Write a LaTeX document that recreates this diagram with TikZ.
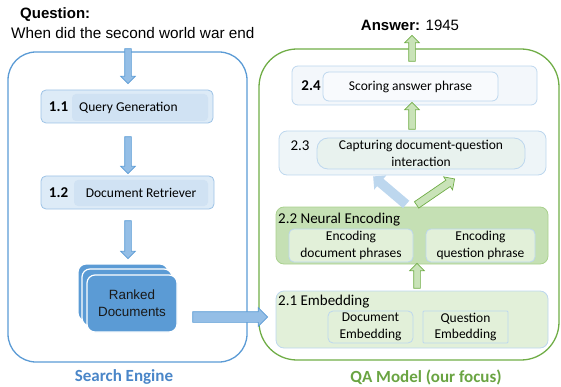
\documentclass[tikz,border=0pt]{standalone}
\usepackage{fontspec}
\setmainfont{Carlito}
\newfontfamily\arial{Liberation Sans}
\usetikzlibrary{shapes.arrows,calc}
\definecolor{seblue}{HTML}{5B9BD5}
\definecolor{selabel}{HTML}{4A86C8}
\definecolor{qagreen}{HTML}{70AD47}
\definecolor{qalabel}{HTML}{6AA442}
\definecolor{lbfill}{HTML}{DDEBF7}
\definecolor{lbborder}{HTML}{9DC3E6}
\definecolor{lbinner}{HTML}{D0E2F3}
\definecolor{pborder}{HTML}{BDD7EE}
\definecolor{fa}{HTML}{F3F7FB}
\definecolor{fb}{HTML}{EEF5F8}
\definecolor{fbin}{HTML}{E8F2EE}
\definecolor{gb}{HTML}{C5E0B4}
\definecolor{gbborder}{HTML}{A9D18E}
\definecolor{ga}{HTML}{E2F0D9}
\definecolor{arrowblue}{HTML}{94BEE6}
\definecolor{arrowbluelight}{HTML}{BDD7EE}
\definecolor{arrowgreen}{HTML}{C9E3B8}
\newcommand\blockarrow[3]{\path let \p1=(#2), \p2=(#3), \n1={veclen(\x2-\x1,\y2-\y1)}, \n2={atan2(\y2-\y1,\x2-\x1)} in node[#1, minimum height=\n1, rotate=\n2] at ($(\p1)!0.5!(\p2)$) {};}
\begin{document}
\begin{tikzpicture}[x=1pt,y=-1pt,
  nw/.style={anchor=north west, inner sep=0pt, outer sep=0pt},
  bigbox/.style={nw, draw, line width=1.3pt},
  sbox/.style={nw, rounded corners=5pt, draw=lbborder, fill=lbfill, line width=0.8pt},
  sinner/.style={nw, rounded corners=4pt, fill=lbinner, font=\fontsize{13.5}{16}\selectfont},
  pbox/.style={nw, draw=pborder, line width=0.8pt},
  lbl/.style={inner sep=0pt, font=\fontsize{15}{18}\selectfont},
  txt/.style={font=\fontsize{13.5}{16.5}\selectfont, align=center, inner sep=0pt},
  barrowbase/.style={single arrow, inner xsep=0pt, outer sep=0pt, line width=0.7pt},
  downarrow/.style={barrowbase, draw=seblue, fill=arrowblue, inner ysep=3pt, single arrow head extend=4pt},
  bigarrow/.style={barrowbase, draw=seblue, fill=arrowblue, inner ysep=5pt, single arrow head extend=4pt},
  greenarrow/.style={barrowbase, draw=qagreen, fill=arrowgreen, inner ysep=3pt, single arrow head extend=4pt},
  diagblue/.style={barrowbase, fill=arrowbluelight, inner ysep=4.5pt, single arrow head extend=4.5pt},
  diaggreen/.style={barrowbase, draw=qagreen, fill=arrowgreen, inner ysep=3.5pt, single arrow head extend=4pt},
  doc/.style={nw, rounded corners=8pt, fill=seblue, draw=white, line width=1.2pt, minimum width=90pt, minimum height=57pt}
]
\useasboundingbox (0,0) rectangle (561,387);

% ---------- Search engine ----------
\node[bigbox, draw=seblue, rounded corners=28pt, minimum width=239pt, minimum height=310pt] (se) at (8,52) {};
\node[anchor=west, inner sep=0pt, font=\arial\bfseries\fontsize{15}{18}\selectfont] (qtitle) at (20,15) {Question:};
\node[anchor=west, inner sep=0pt, font=\arial\fontsize{15.3}{18}\selectfont] (qtext) at (11,33) {When did the second world war end};

\node[sbox, minimum width=172pt, minimum height=33pt] (b11) at (41,90) {};
\node[sinner, minimum width=136pt, minimum height=27pt] (b11in) at (72,94) {};
\node[font=\fontsize{13.5}{16}\selectfont, inner sep=0pt, anchor=west] (b11txt) at (79,107.5) {Query Generation};
\node[lbl, font=\bfseries\fontsize{15}{18}\selectfont] (n11) at (58.5,106.5) {1.1};

\node[sbox, minimum width=173pt, minimum height=33pt] (b12) at (41,176) {};
\node[sinner, minimum width=134pt, minimum height=26pt] (b12in) at (74,180) {Document Retriever};
\node[lbl, font=\bfseries\fontsize{15}{18}\selectfont] (n12) at (58.5,192.5) {1.2};

\node[doc] (rd3) at (78,264) {};
\node[doc] (rd2) at (82,269) {};
\node[doc, font=\arial\fontsize{13.4}{16.7}\selectfont, text=black!90, align=center] (rd) at (87,275) {Ranked\\Documents};

\node[font=\bfseries\fontsize{17}{20}\selectfont, text=selabel, inner sep=0pt] (selbl) at (124,377) {Search Engine};

\blockarrow{downarrow}{$(b11.north)+(1,-43)$}{$(b11.north)+(1,-8)$}
\blockarrow{downarrow}{$(b11.south)+(1,12)$}{$(b12.north)+(0.5,-4)$}
\blockarrow{downarrow}{$(b12.south)+(0.5,10)$}{$(rd.north)+(-4,-18)$}

% ---------- QA model ----------
\node[bigbox, draw=qagreen, rounded corners=38pt, minimum width=300pt, minimum height=311pt] (qa) at (259,49) {};
\node[anchor=center, inner sep=0pt, font=\arial\fontsize{15}{18}\selectfont] (ans) at (410,25) {\textbf{Answer:} 1945};

\blockarrow{bigarrow}{$(rd.east)+(13,13.5)$}{$(qa.west)+(6,112.5)$}

% 2.4
\node[pbox, fill=fa, rounded corners=6pt, minimum width=245pt, minimum height=39pt] (b24) at (292,66) {};
\node[pbox, fill=fa!60!white, rounded corners=6pt, minimum width=175pt, minimum height=29pt, font=\fontsize{13.5}{16}\selectfont] (b24in) at (323,72) {Scoring answer phrase};
\node[lbl, font=\bfseries\fontsize{15}{18}\selectfont] (n24) at (311,86) {2.4};

% 2.3
\node[pbox, fill=fb, rounded corners=8pt, minimum width=267pt, minimum height=44pt] (b23) at (279,131) {};
\node[pbox, fill=fbin, rounded corners=11pt, minimum width=208pt, minimum height=31pt, txt] (b23in) at (317,138) {Capturing document-question\\interaction};
\node[lbl] (n23) at (300,146) {2.3};

% 2.2
\node[nw, draw=gbborder, fill=gb, line width=0.8pt, rounded corners=8pt, minimum width=272pt, minimum height=57pt] (b22) at (276,207) {};
\node[lbl, anchor=west] (t22) at (278,219.5) {2.2 Neural Encoding};
\node[pbox, fill=ga, rounded corners=5pt, minimum width=124pt, minimum height=33pt, txt] (b22l) at (289,229) {Encoding\\document phrases};
\node[pbox, fill=ga, rounded corners=5pt, minimum width=109pt, minimum height=33pt, txt] (b22r) at (426,229) {Encoding\\question phrase};

% 2.1
\node[pbox, fill=ga, rounded corners=8pt, minimum width=272pt, minimum height=57pt] (b21) at (276,291) {};
\node[lbl, anchor=west] (t21) at (278,302) {2.1 Embedding};
\node[pbox, fill=ga, rounded corners=5pt, minimum width=85pt, minimum height=32pt, txt] (b21l) at (328,311) {Document\\Embedding};
\node[pbox, fill=ga, rounded corners=1pt, minimum width=85pt, minimum height=32pt, txt] (b21r) at (423,311) {Question\\Embedding};

\node[font=\bfseries\fontsize{17}{20}\selectfont, text=qalabel, inner sep=0pt] (qalbl) at (426,377) {QA Model (our focus)};

% green arrows
\blockarrow{greenarrow}{$(b21.north)+(5,-1)$}{$(b22.south)+(5,1)$}
\blockarrow{greenarrow}{$(b23.north)+(-0.5,0)$}{$(b24.south)+(-2.5,-1)$}
\blockarrow{greenarrow}{$(b24.north)+(-2.5,-3)$}{$(b24.north)+(-2.5,-29)$}
\blockarrow{diagblue}{$(b22.north)+(-4,-1)$}{$(b23.south)+(-37.5,3)$}
\blockarrow{diaggreen}{$(b22.north)+(3,-1)$}{$(b23.south)+(40.5,5)$}
\end{tikzpicture}
\end{document}
